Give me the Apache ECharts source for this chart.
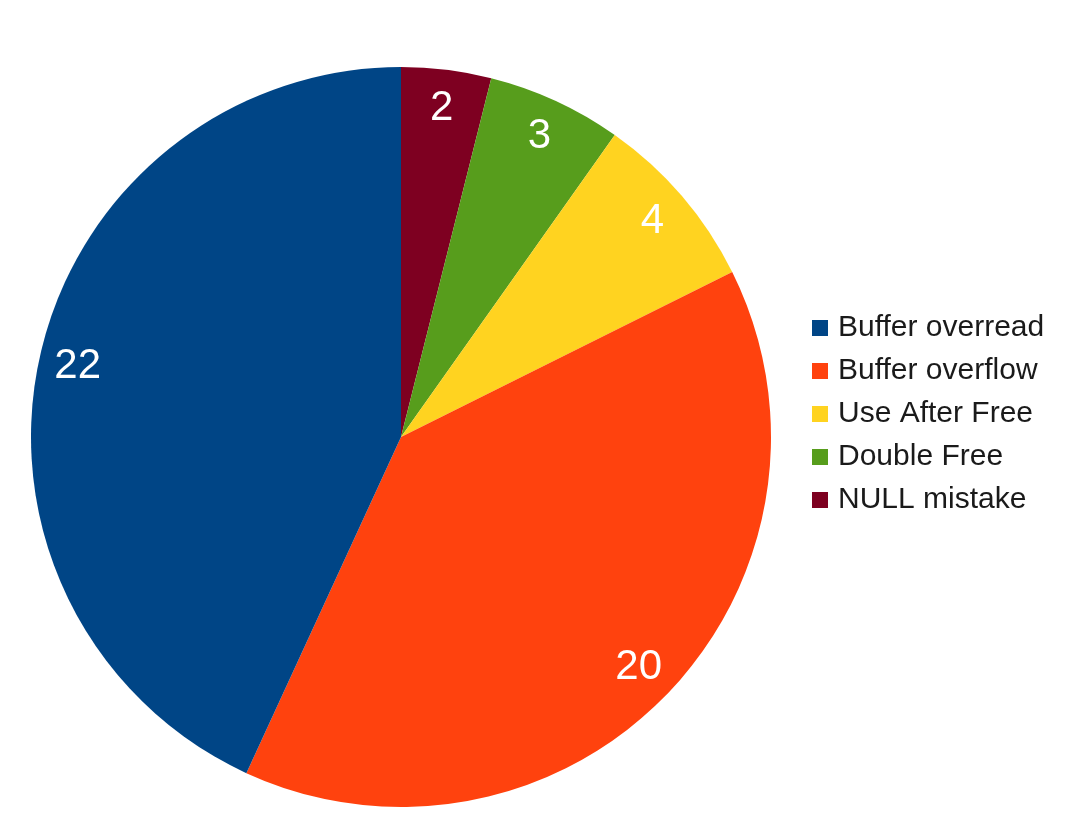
<!DOCTYPE html>
<html>
    <head>
        <meta charset="UTF-8" />
        <script src="https://cdn.jsdelivr.net/npm/echarts@6/dist/echarts.min.js"></script>
    </head>

    <body style="margin:0;background:#ffffff">
        <div id="main" style="width: 1080px; height: 828px"></div>
        <script type="text/javascript">
            // legend order
            var categories = ['Buffer overread', 'Buffer overflow', 'Use After Free', 'Double Free', 'NULL mistake'];
            var values = [22, 20, 4, 3, 2];
            var colors = ['#004586', '#ff420e', '#ffd320', '#579d1c', '#7e0021'];

            var chartDom = document.getElementById("main");
            var myChart = echarts.init(chartDom);

            // slices go clockwise from 12 o'clock starting with the last category
            var pieData = [];
            for (var i = categories.length - 1; i >= 0; i--) {
                pieData.push({
                    name: categories[i],
                    value: values[i],
                    itemStyle: { color: colors[i] }
                });
            }
            var ringData = pieData.map(function (d) {
                return { name: d.name, value: d.value };
            });

            var option;
            option = {
                animation: false,
                backgroundColor: '#ffffff',
                legend: {
                    orient: 'vertical',
                    left: 807,
                    top: 308,
                    icon: 'rect',
                    itemWidth: 16,
                    itemHeight: 16,
                    itemGap: 13,
                    selectedMode: false,
                    data: categories,
                    textStyle: {
                        fontFamily: 'Liberation Sans',
                        fontSize: 30,
                        color: '#1a1a1a',
                        padding: [0, 0, 0, 5]
                    }
                },
                series: [
                    {
                        name: 'slices',
                        type: 'pie',
                        center: [401, 437],
                        radius: [0, 370],
                        startAngle: 90,
                        clockwise: true,
                        label: { show: false },
                        labelLine: { show: false },
                        emphasis: { disabled: true },
                        data: pieData
                    },
                    {
                        // invisible ring, only here to put the value labels near the rim
                        name: 'labels',
                        type: 'pie',
                        center: [401, 437],
                        radius: [286, 370],
                        startAngle: 90,
                        clockwise: true,
                        silent: true,
                        itemStyle: { color: 'rgba(0,0,0,0)' },
                        label: {
                            show: true,
                            position: 'inside',
                            formatter: '{c}',
                            color: '#ffffff',
                            fontFamily: 'Liberation Sans',
                            fontSize: 42
                        },
                        labelLine: { show: false },
                        emphasis: { disabled: true },
                        data: ringData
                    }
                ]
            };

            option && myChart.setOption(option);
        </script>
    </body>
</html>
